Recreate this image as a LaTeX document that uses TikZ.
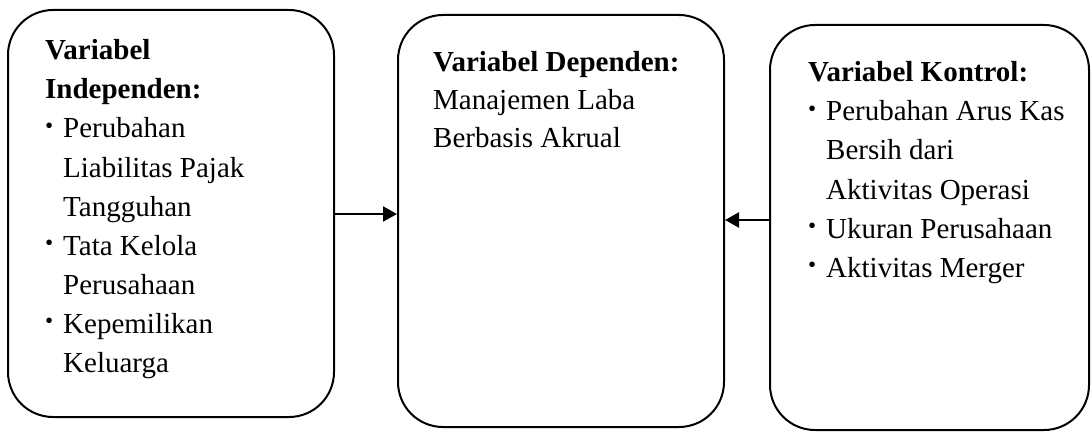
\documentclass[tikz,border=0pt]{standalone}
\usepackage{fontspec}
\setmainfont{Liberation Serif}
\usetikzlibrary{arrows.meta}
\newcommand{\bul}{\makebox[18pt][l]{\raisebox{0.16em}{\scalebox{0.8}{\textbullet}}}}
\newcommand{\ind}{\hspace*{18pt}}
\begin{document}
\begin{tikzpicture}[x=1pt,y=-1pt,
  vbox/.style={draw=black,line width=2pt,rounded corners=45pt,rectangle,inner sep=0pt},
  ln/.style={anchor=base west,inner sep=0pt,font=\fontsize{29}{39}\selectfont},
  arr/.style={line width=2pt,-{Triangle[length=14pt,width=15pt]}}]
\useasboundingbox (0,0) rectangle (1092,433);
% boxes
\node[vbox,minimum width=326pt,minimum height=407pt] (lb) at (171,213.5) {};
\node[vbox,minimum width=326pt,minimum height=412pt] (mb) at (561,221) {};
\node[vbox,minimum width=319pt,minimum height=405pt] (rb) at (929.5,227.5) {};
% left text
\node[ln] (a1) at (45,60)  {\textbf{Variabel}};
\node[ln] (a2) at (45,99)  {\textbf{Independen:}};
\node[ln] (a3) at (45,138) {\bul Perubahan};
\node[ln] (a4) at (45,177) {\ind Liabilitas Pajak};
\node[ln] (a5) at (45,216) {\ind Tangguhan};
\node[ln] (a6) at (45,255) {\bul Tata Kelola};
\node[ln] (a7) at (45,294) {\ind Perusahaan};
\node[ln] (a8) at (45,333) {\bul Kepemilikan};
\node[ln] (a9) at (45,372) {\ind Keluarga};
% middle text
\node[ln] (b1) at (433,72)  {\textbf{Variabel Dependen:}};
\node[ln] (b2) at (433,110) {Manajemen Laba};
\node[ln] (b3) at (433,148) {Berbasis Akrual};
% right text
\node[ln] (c1) at (808,82)  {\textbf{Variabel Kontrol:}};
\node[ln] (c2) at (808,121) {\bul Perubahan Arus Kas};
\node[ln] (c3) at (808,160) {\ind Bersih dari};
\node[ln] (c4) at (808,199) {\ind Aktivitas Operasi};
\node[ln] (c5) at (808,238) {\bul Ukuran Perusahaan};
\node[ln] (c6) at (808,277) {\bul Aktivitas Merger};
% arrows
\draw[arr] (lb.east |- 0,214) -- (mb.west |- 0,214);
\draw[arr] (rb.west |- 0,220) -- (mb.east |- 0,220);
\end{tikzpicture}
\end{document}
